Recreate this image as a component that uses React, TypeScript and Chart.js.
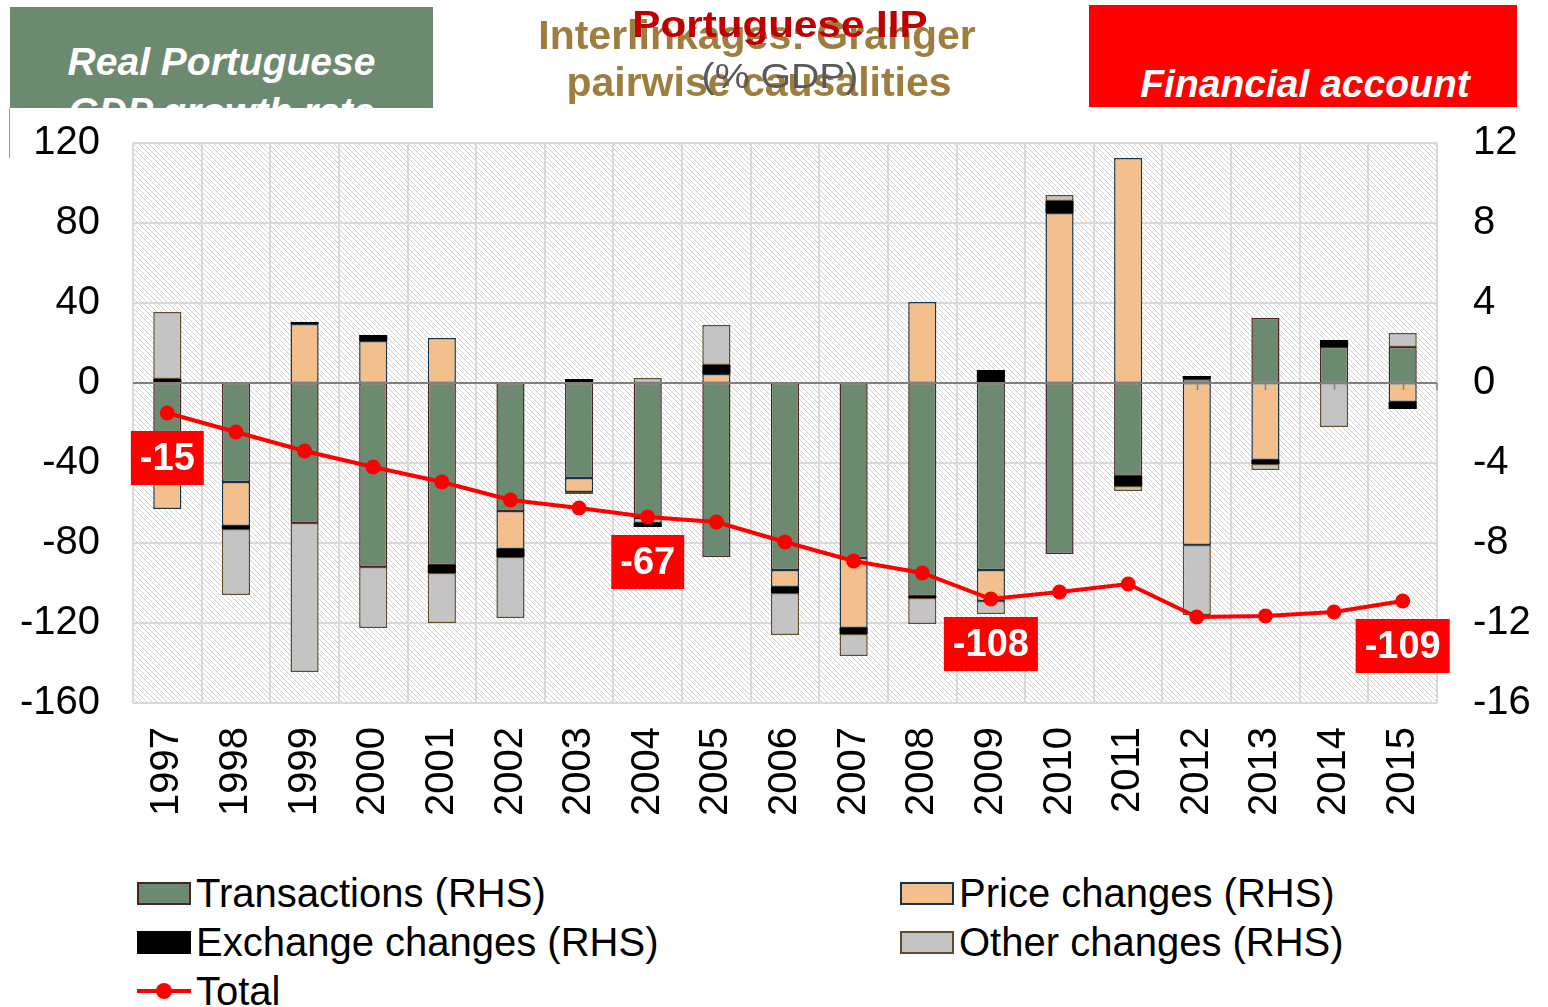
import React, { useEffect, useRef } from "react";
import { Chart, registerables } from "chart.js";

Chart.register(...registerables);

// ---------- data ----------
const years = ["1997", "1998", "1999", "2000", "2001", "2002", "2003", "2004", "2005", "2006", "2007", "2008", "2009", "2010", "2011", "2012", "2013", "2014", "2015"];
// right-hand scale (% GDP, annual flows)
const transactions = [-4.85, -4.95, -7.0, -9.2, -9.1, -6.4, -4.75, -6.75, -8.7, -9.35, -8.75, -10.65, -9.35, -8.55, -4.65, 0.2, 3.25, 1.8, 1.8];
const priceChanges = [-1.45, -2.2, 2.95, 2.1, 2.25, -1.9, -0.7, -0.25, 0.45, -0.85, -3.5, 4.05, -1.55, 8.5, 11.25, -8.1, -3.85, 0, -0.95];
const exchangeChanges = [0.2, -0.15, 0.1, 0.3, -0.4, -0.4, 0.2, -0.2, 0.45, -0.3, -0.3, -0.1, 0.65, 0.6, -0.5, 0.15, -0.2, 0.35, -0.35];
const otherChanges = [3.35, -3.3, -7.45, -3.05, -2.5, -3.05, -0.1, 0.25, 2.0, -2.1, -1.1, -1.3, -0.65, 0.3, -0.25, -3.5, -0.3, -2.2, 0.7];
// left-hand scale (% GDP, stock)
const totalIIP = [-15, -24.5, -34, -42, -49.5, -58.5, -62.5, -67, -69.5, -79.5, -89, -95, -108, -104.5, -100.5, -117, -116.5, -114.5, -109];
const labelledYears = ["1997", "2004", "2009", "2015"];
const leftAxis = [-160, 120, 40]; // min, max, step
const rightAxis = [-16, 12, 4];

const FONT = "'Liberation Sans', Arial, sans-serif";

const hatchPlugin = {
  id: "hatch",
  beforeDraw(chart: any) {
    const { ctx, chartArea } = chart;
    const { left, top, right, bottom } = chartArea;
    const p = document.createElement("canvas");
    p.width = 5;
    p.height = 5;
    const pc = p.getContext("2d")!;
    pc.fillStyle = "#ffffff";
    pc.fillRect(0, 0, 5, 5);
    pc.fillStyle = "#d0d0d0";
    for (let i = 0; i < 5; i++) pc.fillRect(i, i, 1, 1);
    ctx.save();
    ctx.fillStyle = ctx.createPattern(p, "repeat");
    ctx.fillRect(left, top, right - left, bottom - top);
    ctx.restore();
  },
};

const zeroLinePlugin = {
  id: "zeroLine",
  afterDatasetsDraw(chart: any) {
    const { ctx, chartArea, scales } = chart;
    const y0 = Math.round(scales.y1.getPixelForValue(0));
    ctx.save();
    ctx.strokeStyle = "#808080";
    ctx.lineWidth = 2;
    ctx.beginPath();
    ctx.moveTo(chartArea.left, y0);
    ctx.lineTo(chartArea.right, y0);
    ctx.stroke();
    ctx.lineWidth = 1.5;
    years.forEach((_, i) => {
      const x = Math.round(scales.x.getPixelForValue(i)) + 0.5;
      ctx.beginPath();
      ctx.moveTo(x, y0);
      ctx.lineTo(x, y0 + 7);
      ctx.stroke();
    });
    ctx.beginPath();
    ctx.moveTo(chartArea.right, y0);
    ctx.lineTo(chartArea.right, y0 + 7);
    ctx.stroke();
    ctx.restore();
  },
};

const valueLabelPlugin = {
  id: "valueLabels",
  afterDraw(chart: any) {
    const { ctx } = chart;
    const meta = chart.getDatasetMeta(0);
    ctx.save();
    ctx.font = `bold 38px ${FONT}`;
    ctx.textAlign = "center";
    ctx.textBaseline = "middle";
    labelledYears.forEach((yr) => {
      const i = years.indexOf(yr);
      const pt = meta.data[i];
      const text = String(Math.round(totalIIP[i]));
      const w = ctx.measureText(text).width + 18;
      const h = 54;
      const cx = pt.x;
      const cy = pt.y + 45;
      ctx.fillStyle = "#FF0000";
      ctx.fillRect(cx - w / 2, cy - h / 2, w, h);
      ctx.fillStyle = "#FFFFFF";
      ctx.fillText(text, cx, cy + 2);
    });
    ctx.restore();
  },
};

function TextAt(props: { text: string; cx: number; baseline: number; size: number; color: string; weight?: string; italic?: boolean; sx?: number; family?: string; z?: number }) {
  const { text, cx, baseline, size, color, weight = "normal", italic = false, sx = 1, family = FONT, z = 1 } = props;
  return (
    <div
      style={{
        position: "absolute",
        left: cx,
        top: baseline - 0.8465 * size,
        transform: `translateX(-50%) scaleX(${sx})`,
        fontFamily: family,
        fontSize: size,
        lineHeight: 1,
        fontWeight: weight as any,
        fontStyle: italic ? "italic" : "normal",
        color,
        whiteSpace: "nowrap",
        zIndex: z,
      }}
    >
      {text}
    </div>
  );
}

function LegendBox(props: { left: number; cy: number; fill: string; border: string; label: string }) {
  const { left, cy, fill, border, label } = props;
  return (
    <div style={{ position: "absolute", left, top: cy - 23, height: 46, display: "flex", alignItems: "center" }}>
      <div style={{ width: 50, height: 19, background: fill, border: `2px solid ${border}` }} />
      <div style={{ marginLeft: 5, fontFamily: FONT, fontSize: 40, color: "#000", whiteSpace: "nowrap", lineHeight: "46px" }}>{label}</div>
    </div>
  );
}

export default function App() {
  const ref = useRef<HTMLCanvasElement | null>(null);

  useEffect(() => {
    if (!ref.current) return;
    const tickFont = { family: FONT, size: 40 };
    const chart = new Chart(ref.current, {
      type: "bar",
      data: {
        labels: years,
        datasets: [
          {
            type: "line",
            label: "Total",
            data: totalIIP,
            yAxisID: "y",
            borderColor: "#FF0000",
            backgroundColor: "#FF0000",
            borderWidth: 4,
            pointRadius: 7.5,
            pointBackgroundColor: "#FF0000",
            pointBorderWidth: 0,
            tension: 0,
          } as any,
          {
            label: "Transactions (RHS)",
            data: transactions,
            yAxisID: "y1",
            backgroundColor: "#6B8A6F",
            borderColor: "#4E2222",
            borderWidth: 1.5,
            borderSkipped: false,
          },
          {
            label: "Price changes (RHS)",
            data: priceChanges,
            yAxisID: "y1",
            backgroundColor: "#F3BF8D",
            borderColor: "#16344A",
            borderWidth: 1.5,
            borderSkipped: false,
          },
          {
            label: "Exchange changes (RHS)",
            data: exchangeChanges,
            yAxisID: "y1",
            backgroundColor: "#000000",
            borderColor: "#000000",
            borderWidth: 0,
            borderSkipped: false,
          },
          {
            label: "Other changes (RHS)",
            data: otherChanges,
            yAxisID: "y1",
            backgroundColor: "#C4C4C4",
            borderColor: "#5E4C2A",
            borderWidth: 1.5,
            borderSkipped: false,
          },
        ],
      },
      options: {
        responsive: false,
        animation: false,
        devicePixelRatio: 1,
        layout: { padding: { top: 143, left: 0, right: 0, bottom: 0 } },
        datasets: { bar: { barPercentage: 0.41, categoryPercentage: 1.0 } },
        plugins: { legend: { display: false }, tooltip: { enabled: false } },
        scales: {
          x: {
            stacked: true,
            offset: true,
            grid: { display: true, color: "#D9D9D9", lineWidth: 2, offset: true, drawTicks: false },
            border: { display: false },
            ticks: { font: tickFont, color: "#000", minRotation: 90, maxRotation: 90, padding: 24, autoSkip: false },
            afterFit: (s: any) => {
              s.height = 127;
            },
          },
          y: {
            position: "left",
            min: leftAxis[0],
            max: leftAxis[1],
            grid: { color: "#D9D9D9", lineWidth: 2, drawTicks: false },
            border: { display: false },
            ticks: { stepSize: leftAxis[2], font: tickFont, color: "#000", padding: 33 },
            afterFit: (s: any) => {
              s.width = 133;
            },
          },
          y1: {
            position: "right",
            stacked: true,
            min: rightAxis[0],
            max: rightAxis[1],
            grid: { display: false, drawTicks: false },
            border: { display: false },
            ticks: { stepSize: rightAxis[2], font: tickFont, color: "#000", padding: 36 },
            afterFit: (s: any) => {
              s.width = 111;
            },
          },
        },
      },
      plugins: [hatchPlugin, zeroLinePlugin, valueLabelPlugin],
    });
    return () => chart.destroy();
  }, []);

  return (
    <div style={{ position: "absolute", left: 0, top: 0, width: 1548, height: 1007, background: "#fff", overflow: "hidden" }}>
      <canvas ref={ref} width={1548} height={830} style={{ position: "absolute", left: 0, top: 0, display: "block" }} />

      {/* header leftovers */}
      <div style={{ position: "absolute", left: 10, top: 7, width: 423, height: 101, background: "#6B8A6F", overflow: "hidden" }}>
        <div style={{ position: "absolute", left: 0, width: 423, top: 75 - 7 - 0.8465 * 39, textAlign: "center", fontFamily: FONT, fontSize: 39, fontWeight: "bold", fontStyle: "italic", color: "#fff" }}>
          <div style={{ lineHeight: 1, height: 50 }}>Real Portuguese</div>
          <div style={{ lineHeight: 1, height: 50 }}>GDP growth rate</div>
        </div>
      </div>
      <div style={{ position: "absolute", left: 9, top: 108, width: 1, height: 50, background: "#8FA08F" }} />

      <div style={{ position: "absolute", left: 1089, top: 5, width: 428, height: 102, background: "#FF0000" }} />
      <TextAt text="Financial account" cx={1305} baseline={97} size={39} color="#fff" weight="bold" italic z={2} />

      <TextAt text="Interlinkages: Granger" cx={757} baseline={50} size={41} color="#9E7E3E" weight="bold" z={1} />
      <TextAt text="pairwise causalities" cx={759} baseline={97} size={41} color="#9E7E3E" weight="bold" z={1} />
      <TextAt text="Portuguese IIP" cx={780} baseline={37} size={37} color="#C00000" weight="bold" sx={1.14} z={2} />
      <TextAt text="(% GDP)" cx={780} baseline={88} size={35} color="#595959" sx={1.12} z={2} />

      {/* legend */}
      <LegendBox left={137} cy={893} fill="#6B8A6F" border="#4E2222" label="Transactions (RHS)" />
      <LegendBox left={900} cy={893} fill="#F3BF8D" border="#16344A" label="Price changes (RHS)" />
      <LegendBox left={137} cy={942} fill="#000000" border="#000000" label="Exchange changes (RHS)" />
      <LegendBox left={900} cy={942} fill="#C4C4C4" border="#5E4C2A" label="Other changes (RHS)" />
      <div style={{ position: "absolute", left: 137, top: 991 - 23, height: 46, display: "flex", alignItems: "center" }}>
        <div style={{ position: "relative", width: 54, height: 16 }}>
          <div style={{ position: "absolute", left: 0, top: 6, width: 54, height: 4, background: "#FF0000" }} />
          <div style={{ position: "absolute", left: 19, top: 0, width: 16, height: 16, borderRadius: 8, background: "#FF0000" }} />
        </div>
        <div style={{ marginLeft: 5, fontFamily: FONT, fontSize: 40, color: "#000", whiteSpace: "nowrap", lineHeight: "46px" }}>Total</div>
      </div>
    </div>
  );
}
